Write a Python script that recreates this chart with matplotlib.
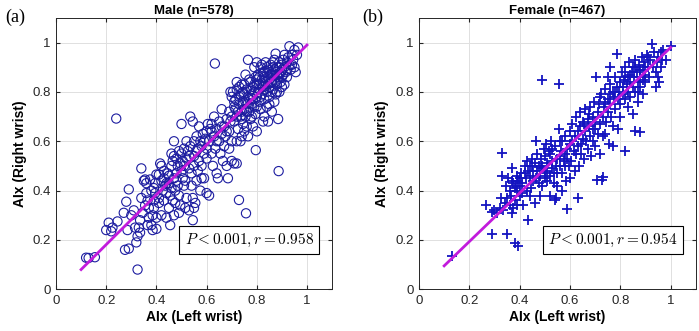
import numpy as np
import matplotlib.pyplot as plt

# male panel: AIx left wrist vs right wrist
male_pts = [
    (0.12, 0.128), (0.13, 0.127), (0.155, 0.13),
    (0.20, 0.24), (0.21, 0.27), (0.22, 0.235), (0.225, 0.25), (0.245, 0.275), (0.275, 0.16),
    (0.29, 0.165), (0.285, 0.24), (0.28, 0.355), (0.29, 0.405), (0.30, 0.30), (0.27, 0.31), (0.24, 0.692),
    (0.31, 0.32), (0.32, 0.19), (0.325, 0.215), (0.33, 0.25), (0.335, 0.23), (0.335, 0.28), (0.34, 0.37),
    (0.34, 0.49), (0.35, 0.44), (0.355, 0.445), (0.36, 0.43), (0.36, 0.39), (0.365, 0.36), (0.37, 0.33),
    (0.37, 0.29), (0.375, 0.445), (0.38, 0.40), (0.38, 0.26), (0.385, 0.24), (0.39, 0.36), (0.39, 0.41),
    (0.395, 0.43), (0.40, 0.465), (0.40, 0.29), (0.40, 0.245), (0.325, 0.08), (0.315, 0.25), (0.345, 0.31),
    (0.355, 0.34), (0.365, 0.26), (0.385, 0.30), (0.39, 0.33), (0.395, 0.39),
    (0.41, 0.37), (0.41, 0.35), (0.415, 0.51), (0.42, 0.50), (0.42, 0.44), (0.425, 0.40), (0.43, 0.36),
    (0.43, 0.45), (0.435, 0.42), (0.44, 0.39), (0.44, 0.29), (0.445, 0.47), (0.45, 0.46), (0.45, 0.43),
    (0.455, 0.38), (0.455, 0.26), (0.46, 0.55), (0.46, 0.50), (0.465, 0.52), (0.47, 0.60), (0.47, 0.45),
    (0.475, 0.40), (0.475, 0.35), (0.48, 0.53), (0.48, 0.47), (0.485, 0.50), (0.485, 0.42), (0.49, 0.31),
    (0.49, 0.38), (0.495, 0.51), (0.50, 0.55), (0.50, 0.48), (0.50, 0.67), (0.41, 0.465), (0.43, 0.48),
    (0.44, 0.43), (0.46, 0.41), (0.465, 0.36), (0.47, 0.54), (0.48, 0.44), (0.49, 0.56), (0.42, 0.30),
    (0.45, 0.33), (0.47, 0.30), (0.495, 0.34),
    (0.505, 0.52), (0.51, 0.50), (0.51, 0.57), (0.515, 0.44), (0.52, 0.53), (0.52, 0.37), (0.525, 0.56),
    (0.53, 0.32), (0.53, 0.49), (0.535, 0.58), (0.54, 0.47), (0.54, 0.42), (0.545, 0.28), (0.55, 0.60),
    (0.55, 0.54), (0.555, 0.35), (0.56, 0.44), (0.56, 0.62), (0.565, 0.57), (0.57, 0.52), (0.57, 0.66),
    (0.575, 0.40), (0.58, 0.58), (0.58, 0.50), (0.585, 0.63), (0.59, 0.55), (0.59, 0.45), (0.595, 0.61),
    (0.60, 0.39), (0.60, 0.53), (0.535, 0.70), (0.545, 0.68), (0.52, 0.60), (0.505, 0.45), (0.515, 0.33),
    (0.56, 0.56), (0.575, 0.60), (0.58, 0.45), (0.60, 0.57), (0.60, 0.64), (0.53, 0.54), (0.55, 0.50),
    (0.565, 0.48), (0.51, 0.42), (0.545, 0.37), (0.59, 0.60), (0.55, 0.33),
    (0.61, 0.38), (0.61, 0.60), (0.615, 0.65), (0.62, 0.55), (0.62, 0.67), (0.625, 0.50), (0.63, 0.62),
    (0.63, 0.70), (0.635, 0.57), (0.64, 0.47), (0.64, 0.65), (0.645, 0.45), (0.65, 0.68), (0.65, 0.60),
    (0.655, 0.55), (0.66, 0.73), (0.66, 0.63), (0.665, 0.52), (0.67, 0.66), (0.67, 0.58), (0.675, 0.62),
    (0.68, 0.69), (0.68, 0.50), (0.685, 0.45), (0.69, 0.64), (0.69, 0.72), (0.695, 0.68), (0.70, 0.52),
    (0.70, 0.60), (0.70, 0.78), (0.633, 0.915), (0.605, 0.67), (0.62, 0.64), (0.64, 0.60), (0.66, 0.66),
    (0.68, 0.64), (0.70, 0.70), (0.695, 0.80), (0.69, 0.57), (0.71, 0.51),
    (0.705, 0.80), (0.71, 0.76), (0.71, 0.68), (0.715, 0.73), (0.72, 0.81), (0.72, 0.70), (0.72, 0.51),
    (0.725, 0.65), (0.73, 0.75), (0.73, 0.78), (0.735, 0.60), (0.735, 0.70), (0.74, 0.72), (0.74, 0.83),
    (0.745, 0.67), (0.745, 0.76), (0.75, 0.79), (0.75, 0.64), (0.75, 0.73), (0.755, 0.87), (0.755, 0.70),
    (0.76, 0.75), (0.76, 0.81), (0.765, 0.93), (0.765, 0.62), (0.77, 0.77), (0.77, 0.72), (0.775, 0.84),
    (0.775, 0.69), (0.78, 0.79), (0.78, 0.75), (0.785, 0.66), (0.785, 0.82), (0.79, 0.80), (0.79, 0.74),
    (0.795, 0.86), (0.795, 0.71), (0.80, 0.78), (0.80, 0.64), (0.80, 0.83), (0.757, 0.308), (0.729, 0.362),
    (0.796, 0.564), (0.72, 0.60), (0.74, 0.62), (0.76, 0.66), (0.78, 0.70), (0.80, 0.92), (0.73, 0.82),
    (0.71, 0.74), (0.725, 0.72), (0.745, 0.80), (0.765, 0.78), (0.785, 0.77), (0.77, 0.85), (0.79, 0.90),
    (0.76, 0.72), (0.80, 0.74), (0.715, 0.77), (0.735, 0.79), (0.755, 0.76), (0.775, 0.81), (0.79, 0.83),
    (0.74, 0.69), (0.77, 0.74), (0.72, 0.84), (0.75, 0.83),
    (0.805, 0.80), (0.805, 0.87), (0.81, 0.76), (0.81, 0.83), (0.815, 0.90), (0.815, 0.73), (0.82, 0.79),
    (0.82, 0.85), (0.825, 0.68), (0.825, 0.82), (0.83, 0.88), (0.83, 0.77), (0.835, 0.92), (0.835, 0.84),
    (0.84, 0.80), (0.84, 0.74), (0.845, 0.86), (0.845, 0.89), (0.85, 0.82), (0.85, 0.78), (0.855, 0.91),
    (0.855, 0.84), (0.86, 0.87), (0.86, 0.72), (0.865, 0.81), (0.865, 0.90), (0.87, 0.85), (0.87, 0.93),
    (0.875, 0.79), (0.875, 0.88), (0.88, 0.83), (0.88, 0.90), (0.885, 0.86), (0.885, 0.69), (0.89, 0.92),
    (0.89, 0.80), (0.895, 0.88), (0.895, 0.84), (0.90, 0.91), (0.90, 0.86), (0.887, 0.479), (0.85, 0.75),
    (0.83, 0.70), (0.87, 0.76), (0.81, 0.86), (0.82, 0.91), (0.84, 0.90), (0.86, 0.84), (0.88, 0.87),
    (0.90, 0.89), (0.80, 0.85), (0.83, 0.86), (0.85, 0.88), (0.87, 0.89), (0.89, 0.90), (0.875, 0.955),
    (0.81, 0.81), (0.83, 0.83), (0.85, 0.85), (0.87, 0.87), (0.89, 0.87), (0.90, 0.82), (0.845, 0.68),
    (0.86, 0.80), (0.88, 0.80), (0.815, 0.78), (0.835, 0.81), (0.855, 0.87), (0.875, 0.84), (0.825, 0.88),
    (0.865, 0.92), (0.845, 0.83),
    (0.905, 0.93), (0.905, 0.87), (0.91, 0.90), (0.91, 0.95), (0.915, 0.88), (0.92, 0.92), (0.92, 0.86),
    (0.925, 0.94), (0.93, 0.91), (0.93, 0.985), (0.935, 0.89), (0.94, 0.95), (0.945, 0.93), (0.95, 0.97),
    (0.955, 0.88), (0.96, 0.95), (0.965, 0.98), (0.91, 0.83), (0.92, 0.89), (0.94, 0.91), (0.95, 0.90),
]

# female panel
female_pts = [
    (0.132, 0.134), (0.265, 0.34), (0.289, 0.223), (0.30, 0.32), (0.31, 0.31), (0.29, 0.315),
    (0.32, 0.33), (0.325, 0.37), (0.328, 0.553), (0.33, 0.46), (0.335, 0.32), (0.34, 0.35), (0.345, 0.42),
    (0.35, 0.37), (0.351, 0.225), (0.355, 0.45), (0.36, 0.34), (0.36, 0.40), (0.365, 0.38), (0.37, 0.44),
    (0.37, 0.49), (0.375, 0.43), (0.375, 0.33), (0.38, 0.41), (0.381, 0.188), (0.385, 0.42), (0.39, 0.46),
    (0.39, 0.34), (0.395, 0.174), (0.395, 0.44), (0.40, 0.38), (0.40, 0.42), (0.38, 0.36), (0.37, 0.31),
    (0.39, 0.40), (0.40, 0.45),
    (0.405, 0.47), (0.41, 0.43), (0.415, 0.34), (0.42, 0.47), (0.42, 0.50), (0.425, 0.45), (0.43, 0.52),
    (0.434, 0.279), (0.435, 0.48), (0.44, 0.46), (0.44, 0.38), (0.445, 0.41), (0.45, 0.50), (0.45, 0.53),
    (0.455, 0.44), (0.46, 0.51), (0.46, 0.35), (0.465, 0.60), (0.47, 0.48), (0.47, 0.55), (0.475, 0.50),
    (0.48, 0.46), (0.48, 0.38), (0.485, 0.53), (0.49, 0.85), (0.49, 0.50), (0.49, 0.42), (0.495, 0.57),
    (0.50, 0.47), (0.50, 0.54), (0.41, 0.39), (0.43, 0.40), (0.455, 0.48), (0.465, 0.45), (0.485, 0.49),
    (0.50, 0.45), (0.44, 0.50), (0.475, 0.43),
    (0.505, 0.59), (0.51, 0.51), (0.51, 0.44), (0.515, 0.56), (0.52, 0.46), (0.52, 0.38), (0.525, 0.60),
    (0.53, 0.52), (0.53, 0.49), (0.535, 0.43), (0.54, 0.58), (0.54, 0.36), (0.545, 0.37), (0.55, 0.53),
    (0.55, 0.47), (0.555, 0.65), (0.558, 0.83), (0.56, 0.60), (0.56, 0.50), (0.565, 0.56), (0.57, 0.47),
    (0.57, 0.40), (0.575, 0.52), (0.58, 0.62), (0.58, 0.55), (0.585, 0.44), (0.589, 0.324), (0.59, 0.57),
    (0.595, 0.50), (0.60, 0.59), (0.60, 0.64), (0.60, 0.45), (0.52, 0.55), (0.535, 0.47), (0.56, 0.54),
    (0.58, 0.50), (0.51, 0.48), (0.545, 0.50), (0.59, 0.53), (0.57, 0.60), (0.55, 0.42), (0.53, 0.57),
    (0.605, 0.52), (0.61, 0.67), (0.615, 0.56), (0.62, 0.48), (0.62, 0.62), (0.625, 0.70), (0.63, 0.58),
    (0.633, 0.37), (0.635, 0.50), (0.64, 0.66), (0.64, 0.72), (0.645, 0.55), (0.65, 0.61), (0.65, 0.68),
    (0.655, 0.53), (0.66, 0.64), (0.66, 0.73), (0.665, 0.60), (0.67, 0.69), (0.67, 0.57), (0.675, 0.66),
    (0.68, 0.74), (0.68, 0.62), (0.685, 0.54), (0.69, 0.70), (0.69, 0.60), (0.695, 0.76), (0.70, 0.65),
    (0.70, 0.68), (0.70, 0.58), (0.706, 0.441), (0.61, 0.60), (0.63, 0.64), (0.655, 0.67), (0.675, 0.71),
    (0.69, 0.65), (0.625, 0.55), (0.645, 0.59),
    (0.705, 0.86), (0.71, 0.72), (0.71, 0.63), (0.715, 0.75), (0.72, 0.67), (0.72, 0.55), (0.725, 0.79),
    (0.728, 0.441), (0.73, 0.70), (0.73, 0.455), (0.735, 0.74), (0.74, 0.63), (0.74, 0.81), (0.745, 0.68),
    (0.75, 0.77), (0.75, 0.72), (0.755, 0.59), (0.76, 0.83), (0.76, 0.75), (0.765, 0.70), (0.77, 0.80),
    (0.77, 0.66), (0.775, 0.78), (0.78, 0.73), (0.78, 0.86), (0.785, 0.954), (0.785, 0.82), (0.79, 0.77),
    (0.79, 0.65), (0.795, 0.80), (0.80, 0.84), (0.80, 0.75), (0.80, 0.70), (0.72, 0.78), (0.74, 0.76),
    (0.76, 0.79), (0.78, 0.80), (0.75, 0.86), (0.73, 0.62), (0.77, 0.58), (0.76, 0.90),
    (0.805, 0.88), (0.81, 0.82), (0.81, 0.79), (0.815, 0.85), (0.819, 0.559), (0.82, 0.77), (0.82, 0.90),
    (0.825, 0.83), (0.83, 0.86), (0.83, 0.80), (0.835, 0.92), (0.84, 0.84), (0.84, 0.78), (0.845, 0.88),
    (0.85, 0.82), (0.85, 0.90), (0.855, 0.86), (0.858, 0.641), (0.86, 0.80), (0.86, 0.93), (0.865, 0.88),
    (0.87, 0.84), (0.87, 0.76), (0.875, 0.91), (0.878, 0.637), (0.88, 0.86), (0.88, 0.82), (0.885, 0.94),
    (0.89, 0.89), (0.89, 0.79), (0.895, 0.92), (0.90, 0.87), (0.90, 0.84), (0.82, 0.86), (0.84, 0.87),
    (0.86, 0.90), (0.88, 0.89), (0.90, 0.90), (0.83, 0.74), (0.85, 0.71), (0.87, 0.80), (0.89, 0.85),
    (0.905, 0.95), (0.91, 0.90), (0.915, 0.86), (0.92, 0.93), (0.925, 0.995), (0.93, 0.90), (0.935, 0.96),
    (0.94, 0.88), (0.945, 0.92), (0.95, 0.94), (0.955, 0.84), (0.96, 0.90), (0.965, 0.93), (0.97, 0.97),
    (1.00, 0.985), (0.98, 0.93), (0.94, 0.82), (0.95, 0.86), (0.96, 0.96), (0.91, 0.94),
]

# regression lines (end points)
male_fit_x = [0.1, 1.0]
male_fit_y = [0.08, 0.99]
female_fit_x = [0.1, 1.0]
female_fit_y = [0.095, 0.98]

titles = ['Male (n=578)', 'Female (n=467)']
stats = [r'$P < 0.001, r = 0.958$', r'$P < 0.001, r = 0.954$']
letters = ['(a)', '(b)']

plt.rcParams['font.family'] = ['Liberation Sans', 'DejaVu Sans']
plt.rcParams['mathtext.fontset'] = 'cm'

fig = plt.figure(figsize=(6.99, 3.31), dpi=100)
ax1 = fig.add_axes([0.0801, 0.126, 0.395, 0.82])
ax2 = fig.add_axes([0.5994, 0.126, 0.396, 0.82])

m = np.array(male_pts)
f = np.array(female_pts)
ax1.scatter(m[:, 0], m[:, 1], s=44, facecolors='none', edgecolors='#1c1ca0', linewidths=0.8, zorder=3)
ax1.plot(male_fit_x, male_fit_y, color='#c21bdc', lw=2, zorder=4)
ax2.scatter(f[:, 0], f[:, 1], s=60, marker='+', color='#1414c0', linewidths=1.3, zorder=3)
ax2.plot(female_fit_x, female_fit_y, color='#c21bdc', lw=2, zorder=4)

for ax, t, st, lt in zip([ax1, ax2], titles, stats, letters):
    ax.set_xlim(0, 1.1)
    ax.set_ylim(0, 1.1)
    ax.set_xticks(np.arange(0, 1.01, 0.2))
    ax.set_yticks(np.arange(0, 1.01, 0.2))
    ax.set_xticklabels(['0', '0.2', '0.4', '0.6', '0.8', '1'])
    ax.set_yticklabels(['0', '0.2', '0.4', '0.6', '0.8', '1'])
    ax.tick_params(direction='in', top=True, right=True, labelsize=9.5, length=3, colors='#262626', pad=4)
    ax.grid(True, color='#e0e0e0', lw=0.7)
    ax.set_axisbelow(True)
    for sp in ax.spines.values():
        sp.set_color('#262626')
        sp.set_linewidth(0.7)
    ax.set_title(t, fontsize=9.5, fontweight='bold', pad=3)
    ax.set_xlabel('AIx (Left wrist)', fontsize=10, fontweight='bold', labelpad=2)
    ax.set_ylabel('AIx (Right wrist)', fontsize=10, fontweight='bold', labelpad=4)
    ax.text(0.77, 0.2, st, fontsize=11, ha='center', va='center', zorder=5,
            bbox=dict(boxstyle='square,pad=0.35', fc='white', ec='black', lw=0.8))

fig.text(0.007, 0.935, letters[0], fontsize=13, family='Liberation Serif')
fig.text(0.518, 0.935, letters[1], fontsize=13, family='Liberation Serif')

fig.savefig('out.png', dpi=100)
